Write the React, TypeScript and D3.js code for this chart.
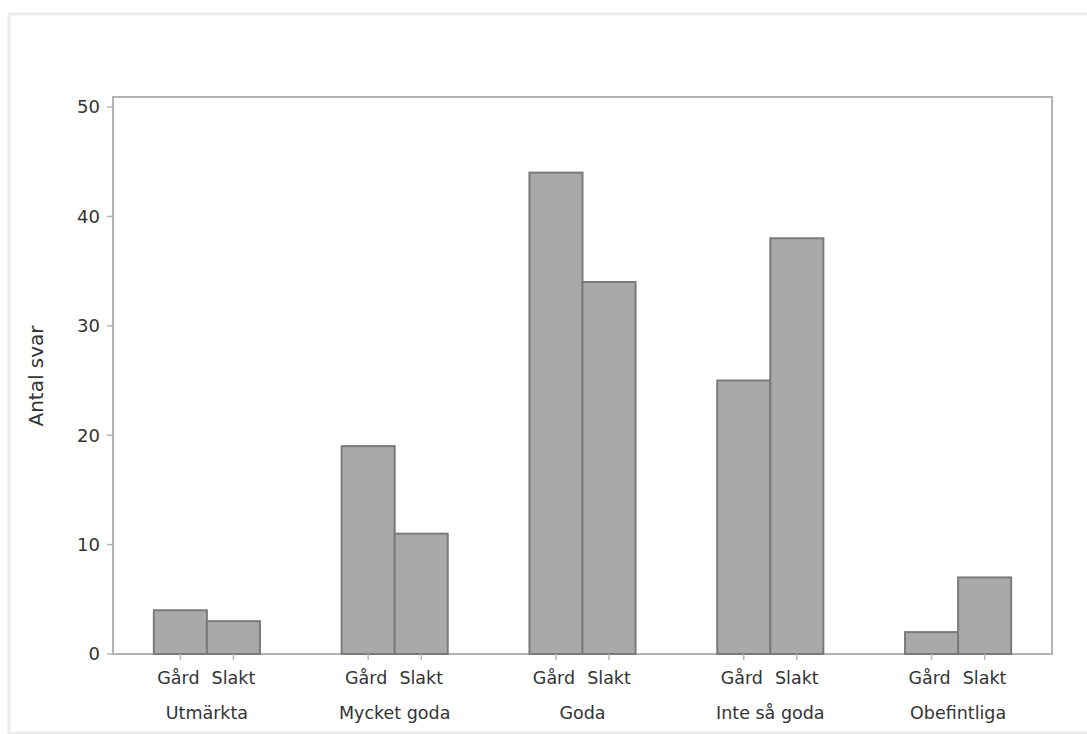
import React from "react";
import * as d3 from "d3";

const categories = ["Utmärkta", "Mycket goda", "Goda", "Inte så goda", "Obefintliga"];
const series = ["Gård", "Slakt"];
const gardValues = [4, 19, 44, 25, 2];
const slaktValues = [3, 11, 34, 38, 7];
const yTicks = [0, 10, 20, 30, 40, 50];

const W = 1087;
const H = 734;
const left = 113;
const right = 1052;
const top = 97;
const bottom = 654;

export default function App() {
  const x0 = d3.scaleBand<string>().domain(categories).range([left, right]).paddingInner(0.435).paddingOuter(0.2175);
  const x1 = d3.scaleBand<string>().domain(series).range([0, x0.bandwidth()]).padding(0);
  const y = d3.scaleLinear().domain([0, 50]).range([bottom, 107]);
  const values = [gardValues, slaktValues];
  const font = "'DejaVu Sans', Verdana, sans-serif";

  return (
    <svg width={W} height={H} style={{ position: "absolute", left: 0, top: 0, display: "block", background: "#fff" }}>
      <rect x={9} y={14} width={W + 10} height={H - 15} fill="none" stroke="#ececec" strokeWidth={3} />
      <rect x={left} y={top} width={right - left} height={bottom - top} fill="#fff" stroke="#b4b4b4" strokeWidth={2} />
      {categories.map((c, i) =>
        series.map((s, j) => {
          const v = values[j][i];
          const bx = (x0(c) ?? 0) + (x1(s) ?? 0);
          const by = y(v);
          return (
            <rect key={c + s} x={bx} y={by} width={x1.bandwidth()} height={y(0) - by}
              fill="#a9a9a9" stroke="#7a7a7a" strokeWidth={2} />
          );
        })
      )}
      {yTicks.map((t) => (
        <g key={t}>
          <line x1={left - 6} x2={left} y1={y(t)} y2={y(t)} stroke="#b4b4b4" strokeWidth={1.5} />
          <text x={left - 13} y={y(t)} dy="0.36em" textAnchor="end" fontFamily={font} fontSize={18} fill="#333">{t}</text>
        </g>
      ))}
      {categories.map((c) =>
        series.map((s) => {
          const cx = (x0(c) ?? 0) + (x1(s) ?? 0) + x1.bandwidth() / 2;
          return (
            <g key={c + s + "t"}>
              <line x1={cx} x2={cx} y1={bottom} y2={bottom + 6} stroke="#b4b4b4" strokeWidth={1.5} />
              <text x={cx + (s === "Gård" ? -2 : 0)} y={684} textAnchor="middle" fontFamily={font} fontSize={17.5} fill="#333">{s}</text>
            </g>
          );
        })
      )}
      {categories.map((c) => (
        <text key={c + "l"} x={(x0(c) ?? 0) + x0.bandwidth() / 2} y={719} textAnchor="middle" fontFamily={font} fontSize={17.5} fill="#333">{c}</text>
      ))}
      <text transform={`translate(43,${376}) rotate(-90)`} textAnchor="middle" fontFamily={font} fontSize={20} fill="#333">Antal svar</text>
    </svg>
  );
}
